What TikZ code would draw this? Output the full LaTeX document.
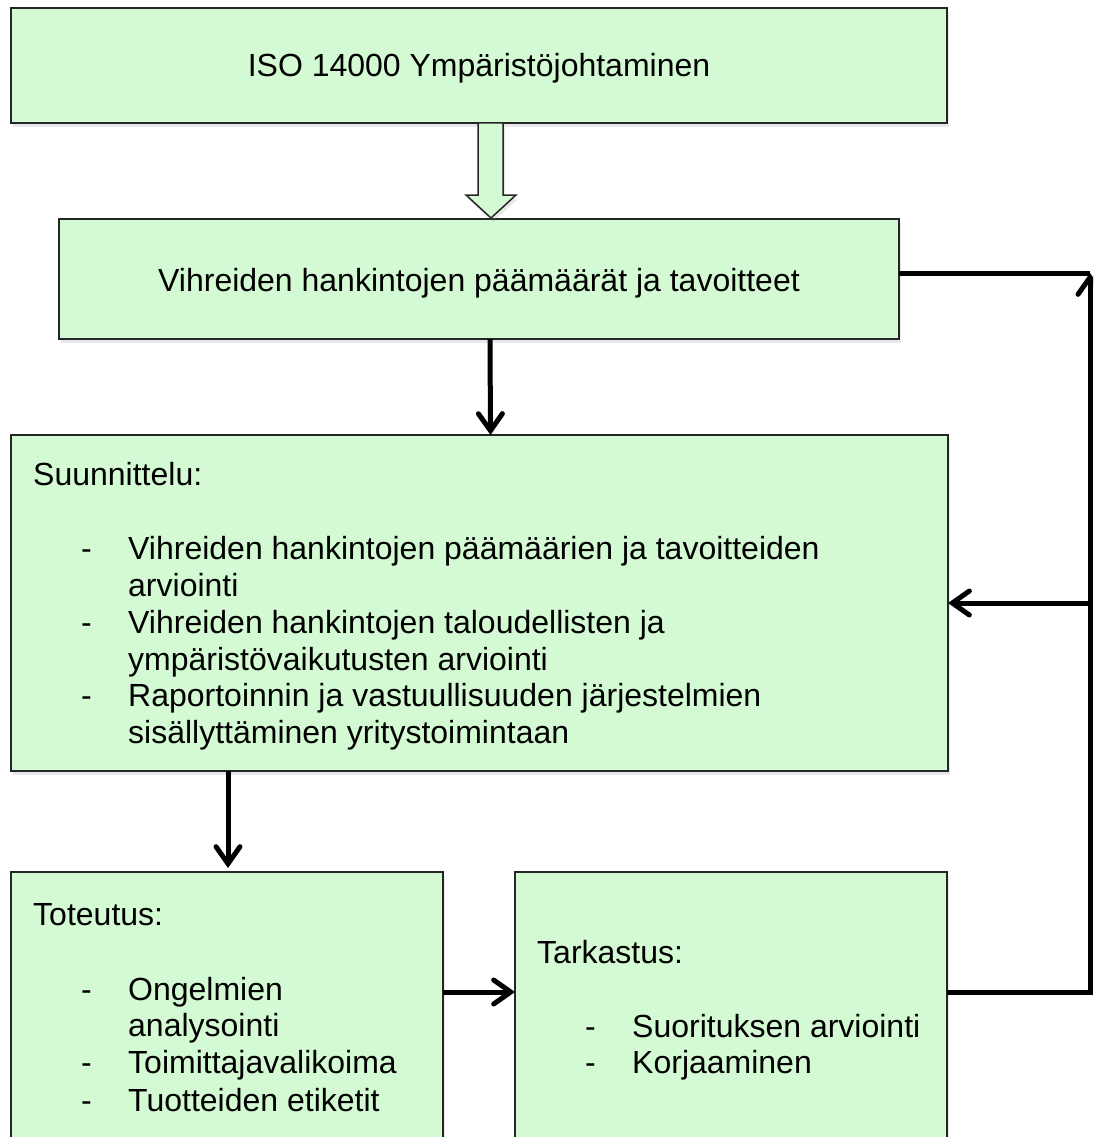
\documentclass[tikz,border=0pt]{standalone}
\usepackage{fontspec}
\setmainfont{Liberation Sans}
\usetikzlibrary{arrows.meta,shadows}
\definecolor{boxgreen}{RGB}{211,250,211}
\begin{document}
\begin{tikzpicture}[x=1pt,y=-1pt,
  box/.style={draw=black!85, line width=1.5pt, fill=boxgreen, rectangle, inner sep=0pt, outer sep=0pt, anchor=north west,
    drop shadow={shadow xshift=2pt, shadow yshift=-4pt, opacity=0.18}},
  txt/.style={font=\fontsize{32}{37}\selectfont, inner sep=0pt, anchor=base west},
  ctxt/.style={font=\fontsize{32}{37}\selectfont, inner sep=0pt, anchor=base},
  thick line/.style={line width=5pt},
  conn/.style={line width=5pt, -{Straight Barb[length=17pt,width=24pt,line cap=round]}},
  ]
\useasboundingbox (0,0) rectangle (1093,1137);
\clip (0,0) rectangle (1093,1137);

% boxes
\node[box, minimum width=936pt, minimum height=115pt] (b1) at (11,8) {};
\node[box, minimum width=840pt, minimum height=120pt] (b2) at (59,219) {};
\node[box, minimum width=937pt, minimum height=336pt] (b3) at (11,435) {};
\node[box, minimum width=432pt, minimum height=300pt] (b4) at (11,872) {};
\node[box, minimum width=432pt, minimum height=300pt] (b5) at (515,872) {};

% hollow arrow
\draw[draw=black!85, line width=1.5pt, fill=boxgreen, line join=miter,
  drop shadow={shadow xshift=2pt, shadow yshift=-4pt, opacity=0.18}]
  (478,123) -- (478,195) -- (466,195) -- (491,218) -- (516,195) -- (503,195) -- (503,123) -- cycle;

% texts
\node[ctxt] (t1) at (479,77) {ISO 14000 Ympäristöjohtaminen};
\node[ctxt] (t2) at (479,291) {Vihreiden hankintojen päämäärät ja tavoitteet};

\node[txt] (s0) at (33,485) {Suunnittelu:};
\node[txt] (d1) at (81,559) {-};
\node[txt] (s1) at (128,559) {Vihreiden hankintojen päämäärien ja tavoitteiden};
\node[txt] (s2) at (128,596) {arviointi};
\node[txt] (d2) at (81,633) {-};
\node[txt] (s3) at (128,633) {Vihreiden hankintojen taloudellisten ja};
\node[txt] (s4) at (128,670) {ympäristövaikutusten arviointi};
\node[txt] (d3) at (81,706) {-};
\node[txt] (s5) at (128,706) {Raportoinnin ja vastuullisuuden järjestelmien};
\node[txt] (s6) at (128,743) {sisällyttäminen yritystoimintaan};

\node[txt] (u0) at (33,925) {Toteutus:};
\node[txt] (e1) at (81,1000) {-};
\node[txt] (u1) at (128,1000) {Ongelmien};
\node[txt] (u2) at (128,1036) {analysointi};
\node[txt] (e2) at (81,1073) {-};
\node[txt] (u3) at (128,1073) {Toimittajavalikoima};
\node[txt] (e3) at (81,1111) {-};
\node[txt] (u4) at (128,1111) {Tuotteiden etiketit};

\node[txt] (k0) at (537,963) {Tarkastus:};
\node[txt] (f1) at (585,1037) {-};
\node[txt] (k1) at (632,1037) {Suorituksen arviointi};
\node[txt] (f2) at (585,1073) {-};
\node[txt] (k2) at (632,1073) {Korjaaminen};

% connectors
\draw[conn] ([xshift=11pt]b2.south) -- ([xshift=11pt]b3.north);
\draw[conn, shorten >=4pt] ([xshift=217pt]b3.south west) -- ([xshift=217pt]b4.north west);
\draw[conn] ([yshift=-120pt]b4.north east) -- ([yshift=-120pt]b5.north west);

\coordinate (c1) at (1090,273);
\coordinate (c3) at (1090,603);
\draw[conn] ([yshift=-120pt]b5.north east) -| (c1);
\draw[thick line] ([yshift=6pt]b2.east) -- (c1);
\draw[conn] (c3) -- (c3 -| b3.east);
\end{tikzpicture}
\end{document}
